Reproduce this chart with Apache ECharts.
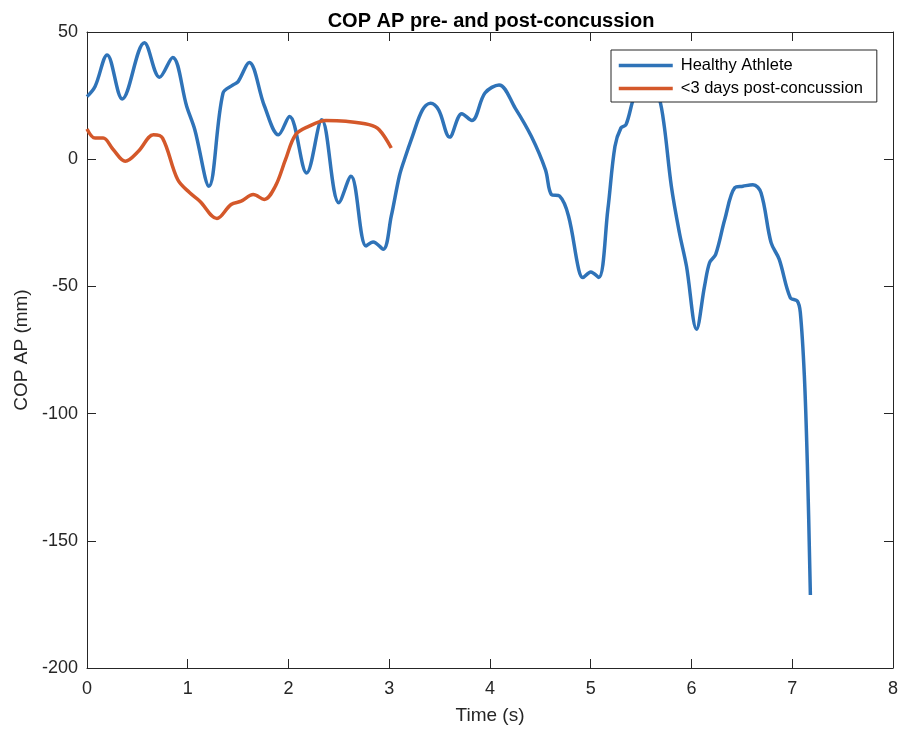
<!DOCTYPE html>
<html><head><meta charset="utf-8">
<script src="https://cdn.jsdelivr.net/npm/echarts@6/dist/echarts.min.js"></script>
<style>html,body{margin:0;padding:0;background:#fff}#c{width:901px;height:730px}</style>
</head><body><div id="c"></div>
<script>
var titleText = 'COP AP pre- and post-concussion';
var xName = 'Time (s)';
var yName = 'COP AP (mm)';
var seriesNames = ['Healthy Athlete', '<3 days post-concussion'];

var healthyT = [0,0.08,0.2,0.35,0.57,0.72,0.85,0.99,1.07,1.21,1.35,1.45,1.5,1.61,1.76,1.9,2.01,2.18,2.33,2.5,2.62,2.77,2.84,2.94,3.02,3.1,3.15,3.23,3.33,3.41,3.49,3.6,3.72,3.82,3.95,4.09,4.25,4.41,4.55,4.61,4.69,4.78,4.88,4.92,5.0,5.08,5.17,5.24,5.3,5.35,5.42,5.55,5.68,5.73,5.8,5.88,5.95,6.05,6.13,6.18,6.24,6.33,6.43,6.51,6.61,6.69,6.79,6.87,6.98,7.05,7.08,7.12,7.15,7.18];
var healthyV = [24.6,28.6,41,23.7,45.8,32.2,40,20.7,11.6,-10.6,26,29.2,30.5,38,21,9.6,16.8,-5.4,15.5,-17.1,-6.7,-34.1,-32.5,-35.4,-22.4,-6.7,-0.2,9,19.4,22,19.4,8.7,17.9,15.2,26,29.2,20.1,9,-4.1,-13.9,-14.5,-22.4,-43.3,-46.5,-44.3,-46.5,-19.7,5,12.3,13.6,23.4,38,24,12.9,-10.6,-28.9,-42,-66.8,-49.8,-40.6,-37.4,-23.7,-11.2,-10.6,-10,-13.2,-32.8,-39.3,-54.4,-55.7,-60.2,-85,-120,-171.3];

var postT = [0,0.08,0.16,0.26,0.38,0.51,0.66,0.75,0.9,1.02,1.12,1.29,1.43,1.53,1.65,1.76,1.87,1.97,2.07,2.2,2.37,2.57,2.8,2.9,3.02];
var postV = [11.9,8.3,8.3,3.8,-0.8,3.1,9.6,8.3,-8,-13.2,-16.5,-23.3,-17.8,-16.5,-13.9,-15.8,-10.6,-0.2,9.6,12.9,15.2,14.9,13.6,11.6,4.4];

var xTicks = {min:0, max:8, interval:1};
var yTicks = {min:-200, max:50, interval:50};

function pairs(t, v){ return t.map(function(x,i){ return [x, v[i]]; }); }

var txt = '#262626';
var font = '"Liberation Sans", Arial, Helvetica, sans-serif';
var tick = {show:true, inside:true, length:9, lineStyle:{color:txt}};
var line = {show:true, onZero:false, lineStyle:{color:txt}};
var chart = echarts.init(document.getElementById('c'));
chart.setOption({
  animation:false,
  backgroundColor:'#fff',
  textStyle:{fontFamily:font},
  title:{text:titleText, left:486, top:6, textAlign:'center',
    textStyle:{fontSize:20, fontWeight:'bold', color:'#000', fontFamily:font}},
  grid:{left:87, right:3, top:32, bottom:56, show:false},
  legend:{orient:'vertical', left:611, top:50, itemWidth:54, itemHeight:14, itemGap:6,
    padding:[7,14,5,6], backgroundColor:'#fff', borderColor:txt, borderWidth:1, borderRadius:0,
    itemStyle:{opacity:0}, lineStyle:{width:3.5},
    textStyle:{fontSize:16.5, color:'#000', fontFamily:font, padding:[0,0,0,3]}, data:seriesNames},
  xAxis:[{type:'value', min:xTicks.min, max:xTicks.max, interval:xTicks.interval,
    name:xName, nameLocation:'middle', nameGap:38, nameTextStyle:{fontSize:19, color:txt},
    axisLine:line, axisTick:tick,
    axisLabel:{fontSize:18, color:txt, margin:12}, splitLine:{show:false}},
   {type:'value', position:'top', min:xTicks.min, max:xTicks.max, interval:xTicks.interval,
    axisLine:line, axisTick:tick,
    axisLabel:{show:false}, splitLine:{show:false}}],
  yAxis:[{type:'value', min:yTicks.min, max:yTicks.max, interval:yTicks.interval,
    name:yName, nameLocation:'middle', nameGap:51, nameTextStyle:{fontSize:19, color:txt},
    axisLine:line, axisTick:tick,
    axisLabel:{fontSize:18, color:txt, margin:9}, splitLine:{show:false}},
   {type:'value', position:'right', min:yTicks.min, max:yTicks.max, interval:yTicks.interval,
    axisLine:line, axisTick:tick,
    axisLabel:{show:false}, splitLine:{show:false}}],
  series:[
    {name:seriesNames[0], type:'line', data:pairs(healthyT, healthyV), smooth:0.35, symbol:'none',
     lineStyle:{color:'#2F73B8', width:3.5}, itemStyle:{color:'#2F73B8'}, z:3},
    {name:seriesNames[1], type:'line', data:pairs(postT, postV), smooth:0.35, symbol:'none',
     lineStyle:{color:'#D4582A', width:3.5}, itemStyle:{color:'#D4582A'}, z:3}
  ]
});
</script></body></html>
